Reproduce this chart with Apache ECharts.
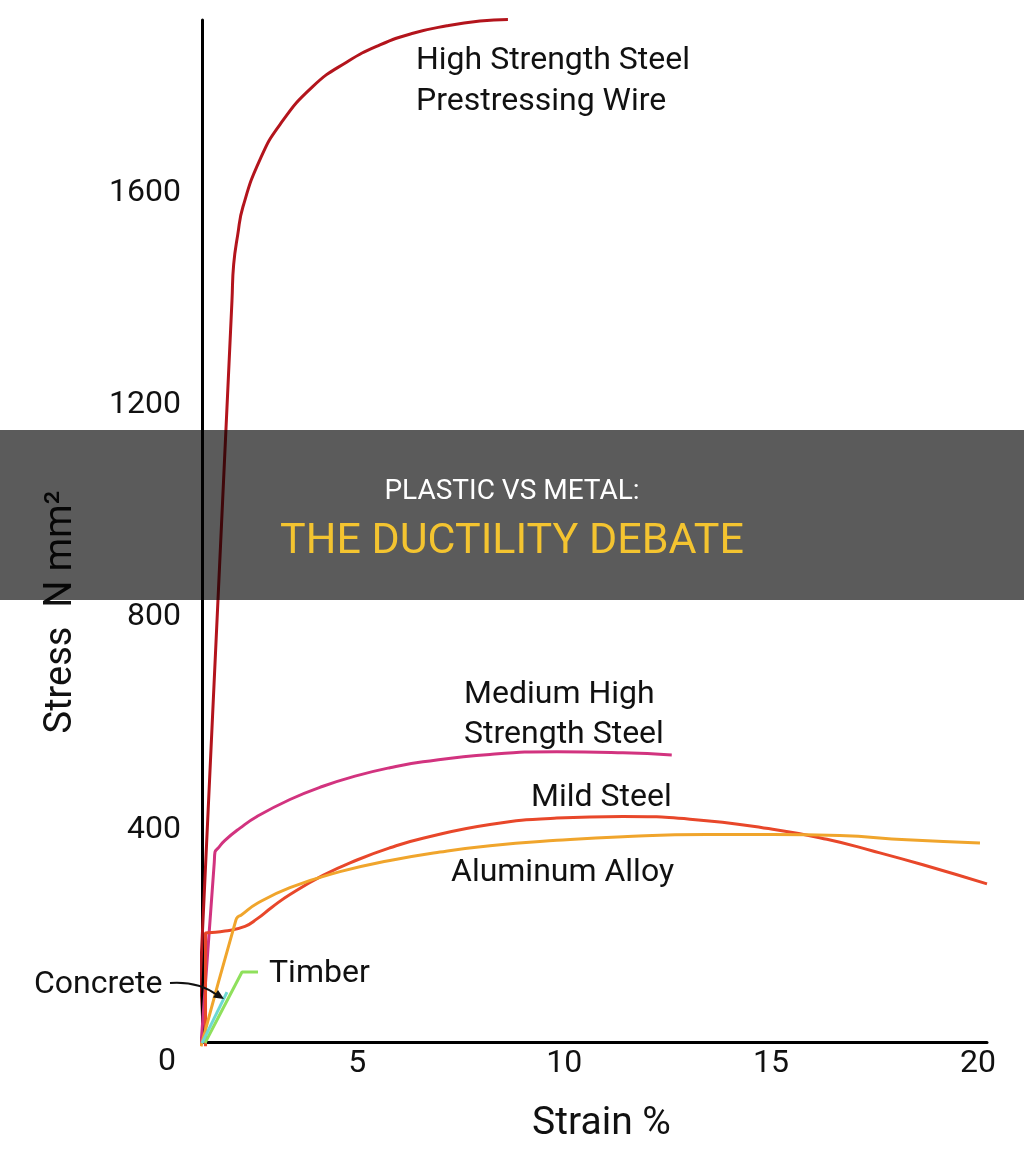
<!DOCTYPE html>
<html>
<head>
<meta charset="utf-8">
<script src="https://cdn.jsdelivr.net/npm/echarts@6/dist/echarts.min.js"></script>
<style>
html,body{margin:0;padding:0;background:#fff;}
#chart{width:1024px;height:1156px;}
</style>
</head>
<body>
<div id="chart"></div>
<script>
// ---- Data (strain %, stress N/mm²) ----
const strainTicks = [5, 10, 15, 20];
const stressTicks = [400, 800, 1200, 1600];

const highStrengthSteel = [[1.124,-13],[1.970,1398],[2.010,1465],[2.110,1522],[2.235,1574],[2.646,1663],[3.129,1729],[3.927,1801],[4.749,1847],[5.546,1879],[6.344,1901],[7.165,1915],[7.963,1924],[8.640,1927]];
const mediumHighSteel = [[1.22,-6],[1.542,339],[1.559,358],[1.631,365],[1.800,380],[2.163,403],[2.574,425],[3.371,457],[4.169,482],[4.991,502],[5.788,517],[6.585,528],[8.205,542],[9.821,547],[11.42,545],[12.60,541]];
const mildSteel = [[1.33,-8],[1.33,192],[1.33,205],[1.40,206],[1.800,209],[2.284,218],[2.574,232],[2.936,254],[3.371,278],[4.169,314],[4.991,343],[5.788,366],[6.585,384],[8.205,410],[9.821,422],[11.42,425],[13.04,420],[15.04,401],[16.35,382],[17.46,360],[18.67,334],[20.22,298]];
const aluminumAlloy = [[1.221,-8],[2.066,230],[2.115,236],[2.187,239],[2.574,261],[3.371,291],[4.580,321],[5.788,342],[6.996,358],[8.205,370],[9.821,380],[11.42,387],[13.45,391],[15.04,391],[16.66,389],[18.28,381],[20.05,375]];
const timber = [[1.317,-2],[2.212,132],[2.598,132]];
const concrete = [[1.245,-2],[1.849,94]];

const FONT = 'Roboto';

const chart = echarts.init(document.getElementById('chart'), null, {renderer:'canvas'});

function lineSeries(name, data, color, smooth) {
  return {
    name, type: 'line', data, smooth, clip: false,
    symbol: 'none', showSymbol: false,
    lineStyle: {color, width: 3},
    itemStyle: {color},
    emphasis: {disabled: true},
    z: 3
  };
}

chart.setOption({
  animation: false,
  backgroundColor: '#ffffff',
  textStyle: {fontFamily: FONT},
  grid: {left: 202, right: 37, top: 20, bottom: 114, containLabel: false},
  xAxis: {
    type: 'value', min: 1.245, max: 20.22,
    name: 'Strain %', nameLocation: 'middle', nameGap: 63,
    nameTextStyle: {fontSize: 39, color: '#111', fontFamily: FONT, padding: [0, 0, 0, 14]},
    axisLine: {show: true, onZero: false, lineStyle: {color: '#000', width: 3}},
    axisTick: {show: false},
    splitLine: {show: false},
    axisLabel: {customValues: strainTicks, fontSize: 32, color: '#111', margin: 6, fontFamily: FONT,
      formatter: v => String(v)}
  },
  yAxis: {
    type: 'value', min: 0, max: 1926, interval: 400,
    name: 'Stress  N mm²', nameLocation: 'middle', nameGap: 122, nameRotate: 90,
    nameTextStyle: {fontSize: 38, color: '#111', fontFamily: FONT, padding: [0, 162, 0, 0]},
    axisLine: {show: true, onZero: false, lineStyle: {color: '#000', width: 3}},
    axisTick: {show: false},
    splitLine: {show: false},
    axisLabel: {customValues: stressTicks, fontSize: 32, color: '#111', margin: 21, fontFamily: FONT,
      formatter: v => String(v)}
  },
  series: [
    lineSeries('High Strength Steel Prestressing Wire', highStrengthSteel, '#b3141c', 0.5),
    lineSeries('Medium High Strength Steel', mediumHighSteel, '#d2337f', 0.5),
    lineSeries('Mild Steel', mildSteel, '#e8472a', 0.5),
    lineSeries('Aluminum Alloy', aluminumAlloy, '#f0a52c', 0.5),
    lineSeries('Timber', timber, '#8fe05c', false),
    lineSeries('Concrete', concrete, '#6dd8d4', false)
  ],
  graphic: [
    {type:'text', left:158, top:1046, style:{text:'0', fontSize:32, fill:'#111', fontFamily:FONT}, z:10},
    {type:'text', x:416, y:61, style:{text:'High Strength Steel', fontSize:32, fill:'#111', fontFamily:FONT, verticalAlign:'middle'}, z:10},
    {type:'text', x:416, y:102, style:{text:'Prestressing Wire', fontSize:32, fill:'#111', fontFamily:FONT, verticalAlign:'middle'}, z:10},
    {type:'text', x:464, y:695, style:{text:'Medium High', fontSize:32, fill:'#111', fontFamily:FONT, verticalAlign:'middle'}, z:10},
    {type:'text', x:464, y:735, style:{text:'Strength Steel', fontSize:32, fill:'#111', fontFamily:FONT, verticalAlign:'middle'}, z:10},
    {type:'text', x:531, y:798, style:{text:'Mild Steel', fontSize:32, fill:'#111', fontFamily:FONT, verticalAlign:'middle'}, z:10},
    {type:'text', x:451, y:873, style:{text:'Aluminum Alloy', fontSize:32, fill:'#111', fontFamily:FONT, verticalAlign:'middle'}, z:10},
    {type:'text', x:269, y:974, style:{text:'Timber', fontSize:32, fill:'#111', fontFamily:FONT, verticalAlign:'middle'}, z:10},
    {type:'text', x:34, y:985, style:{text:'Concrete', fontSize:32, fill:'#111', fontFamily:FONT, verticalAlign:'middle'}, z:10},
    {type:'bezierCurve', shape:{x1:170, y1:983, cpx1:198, cpy1:981, x2:217, y2:995}, style:{stroke:'#111', lineWidth:2, fill:null}, z:10},
    {type:'polygon', shape:{points:[[224,999],[213,997.5],[218,990]]}, style:{fill:'#111'}, z:10},
    // overlay banner
    {type:'rect', shape:{x:0, y:430, width:1024, height:170}, style:{fill:'rgba(0,0,0,0.645)'}, z:100},
    {type:'text', x:512, y:492, style:{text:'PLASTIC VS METAL:', fontSize:28, fill:'#ffffff', fontFamily:FONT, align:'center', verticalAlign:'middle'}, z:101},
    {type:'text', x:512, y:542, style:{text:'THE DUCTILITY DEBATE', fontSize:43, fill:'#f4c430', fontFamily:FONT, align:'center', verticalAlign:'middle'}, z:101}
  ]
});
</script>
</body>
</html>
